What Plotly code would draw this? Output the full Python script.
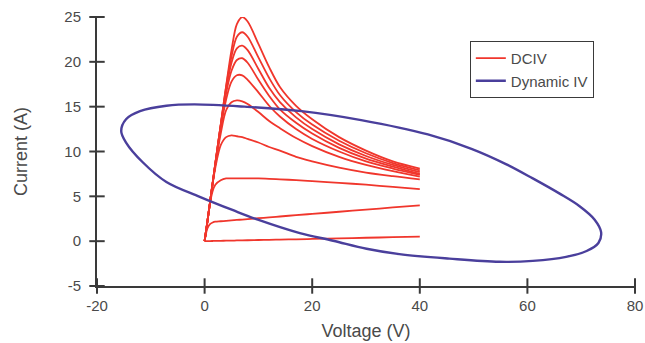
import plotly.graph_objects as go

# DCIV family: voltage grid and current for each gate step
dc_voltage = [0, 0.5, 1, 1.5, 2, 3, 4, 5, 6, 7, 8, 10, 12, 14, 17, 20, 25, 30, 35, 40]
dc_currents = [
    [0, 2.1, 4.3, 6.5, 8.7, 13.0, 17.3, 21.3, 24.2, 25.0, 24.5, 22.0, 19.4, 17.2, 15.1, 13.6, 11.6, 10.1, 8.9, 8.1],
    [0, 2.1, 4.3, 6.5, 8.7, 13.0, 17.2, 20.6, 22.8, 23.3, 22.8, 20.5, 18.2, 16.3, 14.4, 13.0, 11.2, 9.8, 8.7, 7.9],
    [0, 2.1, 4.3, 6.5, 8.7, 12.9, 16.9, 19.9, 21.5, 21.8, 21.3, 19.2, 17.1, 15.5, 13.8, 12.5, 10.8, 9.5, 8.5, 7.7],
    [0, 2.1, 4.3, 6.5, 8.7, 12.9, 16.5, 19.0, 20.2, 20.4, 19.9, 18.0, 16.2, 14.7, 13.2, 12.0, 10.4, 9.2, 8.3, 7.5],
    [0, 2.1, 4.3, 6.5, 8.6, 12.6, 15.8, 17.8, 18.5, 18.5, 18.0, 16.6, 15.1, 13.9, 12.5, 11.4, 10.0, 8.9, 8.1, 7.4],
    [0, 2.1, 4.3, 6.5, 8.5, 12.0, 14.6, 15.5, 15.7, 15.6, 15.3, 14.4, 13.4, 12.6, 11.5, 10.6, 9.4, 8.5, 7.8, 7.2],
    [0, 2.1, 4.3, 6.4, 8.2, 10.7, 11.6, 11.8, 11.7, 11.6, 11.4, 11.0, 10.5, 10.1, 9.4, 8.9, 8.2, 7.65, 7.25, 6.9],
    [0, 2.1, 4.2, 5.6, 6.3, 6.8, 7.0, 7.0, 7.0, 7.0, 7.0, 7.0, 6.95, 6.9, 6.8, 6.7, 6.5, 6.3, 6.05, 5.8],
    [0, 1.4, 1.9, 2.08, 2.17, 2.22, 2.27, 2.32, 2.37, 2.41, 2.46, 2.56, 2.65, 2.75, 2.9, 3.04, 3.28, 3.52, 3.76, 4.0],
    [0, 0.01, 0.01, 0.02, 0.03, 0.04, 0.05, 0.06, 0.08, 0.09, 0.1, 0.13, 0.15, 0.18, 0.21, 0.25, 0.31, 0.38, 0.44, 0.5],
]

# Dynamic IV loop (read around the ellipse, clockwise from the top-left)
dyn_voltage = [-7.1, -1.9, 7.4, 18.0, 29.1, 41.5, 49.6, 56.0, 61.0, 66.0, 69.7, 72.5, 73.7, 73.2,
               71.0, 67.2, 61.0, 54.8, 45.5, 36.2, 30.1, 23.9, 17.7, 9.9, 5.3, -0.9, -7.1, -11.5,
               -14.6, -15.5, -14.6, -12.0, -7.1]
dyn_current = [15.1, 15.25, 15.0, 14.5, 13.5, 11.9, 10.3, 8.6, 7.0, 5.3, 3.9, 2.4, 1.0, -0.2,
               -1.1, -1.75, -2.2, -2.3, -1.95, -1.45, -0.85, 0.05, 0.9, 2.4, 3.45, 4.95, 6.6, 8.8,
               11.0, 12.3, 13.6, 14.5, 15.1]

x_ticks = [-20, 0, 20, 40, 60, 80]
x_tick_text = ["-20", "0", "20", "40", "60", "80"]
y_ticks = [-5, 0, 5, 10, 15, 20, 25]
y_tick_text = ["-5", "0", "5", "10", "15", "20", "25"]

X_MIN, X_MAX = -20, 80
Y_MIN, Y_MAX = -5, 25

RED = "#f0362c"
BLUE = "#4a3f9c"
AXC = "#3a3a3a"
TXT = "#4a4a4a"
FAM = "Liberation Sans, Arial, sans-serif"

fig = go.Figure()
for i, cur in enumerate(dc_currents):
    fig.add_trace(go.Scatter(
        x=dc_voltage, y=cur, mode="lines",
        line=dict(color=RED, width=1.8, shape="spline", smoothing=0.9),
        name="DCIV", legendgroup="dc", showlegend=(i == 0)))

fig.add_trace(go.Scatter(
    x=dyn_voltage, y=dyn_current, mode="lines",
    line=dict(color=BLUE, width=2.4, shape="spline", smoothing=1.0),
    name="Dynamic IV"))

# cross-style tick marks centred on the axis lines
fig.add_trace(go.Scatter(
    x=x_ticks, y=[Y_MIN] * len(x_ticks), mode="markers", cliponaxis=False,
    marker=dict(symbol="line-ns", size=11, line=dict(color=AXC, width=2)),
    showlegend=False, hoverinfo="skip"))
fig.add_trace(go.Scatter(
    x=[X_MIN] * len(y_ticks), y=y_ticks, mode="markers", cliponaxis=False,
    marker=dict(symbol="line-ew", size=11, line=dict(color=AXC, width=2)),
    showlegend=False, hoverinfo="skip"))

fig.update_layout(
    width=645, height=343,
    margin=dict(l=97, r=10, t=17, b=57, autoexpand=False),
    paper_bgcolor="white", plot_bgcolor="white",
    font=dict(family=FAM, size=15, color=TXT),
    showlegend=True,
    legend=dict(x=0.693, y=0.911, xanchor="left", yanchor="top",
                bordercolor=AXC, borderwidth=1, bgcolor="white",
                font=dict(family=FAM, size=15, color=TXT),
                tracegroupgap=0, itemwidth=30),
    xaxis=dict(range=[X_MIN, X_MAX], tickvals=x_ticks, ticktext=x_tick_text,
               showgrid=False, zeroline=False, automargin=False,
               showline=True, linecolor=AXC, linewidth=2,
               ticks="outside", ticklen=5, tickwidth=2, tickcolor="rgba(0,0,0,0)",
               title=dict(text="Voltage (V)", standoff=11), ticklabelstandoff=0),
    yaxis=dict(range=[Y_MIN, Y_MAX], tickvals=y_ticks, ticktext=y_tick_text,
               showgrid=False, zeroline=False, automargin=False,
               showline=True, linecolor=AXC, linewidth=2,
               ticks="outside", ticklen=5, tickwidth=2, tickcolor="rgba(0,0,0,0)",
               title=dict(text="Current (A)", standoff=32), ticklabelstandoff=6),
)

fig.write_html("out.html", config={"displayModeBar": False},
               post_script="document.body.style.margin='0';document.body.style.overflow='hidden';")
